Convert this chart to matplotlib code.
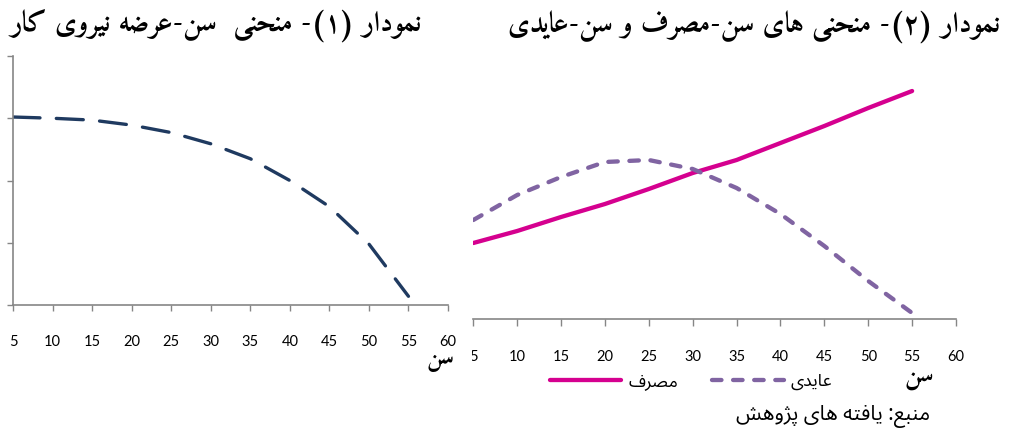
import matplotlib
matplotlib.use('Agg')
import matplotlib.pyplot as plt
from matplotlib.lines import Line2D
from matplotlib.patches import Rectangle

# ---- data ----
ages = [5, 10, 15, 20, 25, 30, 35, 40, 45, 50, 55]
labour_supply = [3.02, 3.00, 2.97, 2.89, 2.77, 2.59, 2.35, 2.00, 1.58, 0.98, 0.14]
consumption = [76, 88, 102, 115, 130, 146, 159, 176, 193, 211, 228]
earnings = [99, 124, 142, 157, 159, 150, 131, 105, 73, 38, 6]
x_ticks = [5, 10, 15, 20, 25, 30, 35, 40, 45, 50, 55, 60]

title_left = 'نمودار (۱)- منحنی  سن-عرضه نیروی کار'
title_right = 'نمودار (۲)- منحنی های سن-مصرف و سن-عایدی'
xlabel = 'سن'
series_names = ['مصرف', 'عایدی']
source_note = 'منبع: یافته های پژوهش'

# ---- minimal Persian shaping (matplotlib has no bidi / joining) ----
# (isolated, final, initial, medial); right-joining letters only have two forms
FORMS = {
    'ا': ('\uFE8D', '\uFE8E'),
    'ب': ('\uFE8F', '\uFE90', '\uFE91', '\uFE92'),
    'پ': ('\uFB56', '\uFB57', '\uFB58', '\uFB59'),
    'ت': ('\uFE95', '\uFE96', '\uFE97', '\uFE98'),
    'ح': ('\uFEA1', '\uFEA2', '\uFEA3', '\uFEA4'),
    'د': ('\uFEA9', '\uFEAA'),
    'ر': ('\uFEAD', '\uFEAE'),
    'ژ': ('\uFB8A', '\uFB8B'),
    'س': ('\uFEB1', '\uFEB2', '\uFEB3', '\uFEB4'),
    'ش': ('\uFEB5', '\uFEB6', '\uFEB7', '\uFEB8'),
    'ص': ('\uFEB9', '\uFEBA', '\uFEBB', '\uFEBC'),
    'ض': ('\uFEBD', '\uFEBE', '\uFEBF', '\uFEC0'),
    'ع': ('\uFEC9', '\uFECA', '\uFECB', '\uFECC'),
    'ف': ('\uFED1', '\uFED2', '\uFED3', '\uFED4'),
    'ک': ('\uFB8E', '\uFB8F', '\uFB90', '\uFB91'),
    'م': ('\uFEE1', '\uFEE2', '\uFEE3', '\uFEE4'),
    'ن': ('\uFEE5', '\uFEE6', '\uFEE7', '\uFEE8'),
    'ه': ('\uFEE9', '\uFEEA', '\uFEEB', '\uFEEC'),
    'و': ('\uFEED', '\uFEEE'),
    'ی': ('\uFBFC', '\uFBFD', '\uFBFE', '\uFBFF'),
}
MIRROR = {'(': ')', ')': '('}


def fa(text):
    out = []
    for i, ch in enumerate(text):
        if ch not in FORMS:
            out.append(MIRROR.get(ch, ch))
            continue
        prev = text[i - 1] if i > 0 else ''
        nxt = text[i + 1] if i + 1 < len(text) else ''
        join_prev = prev in FORMS and len(FORMS[prev]) == 4
        join_next = len(FORMS[ch]) == 4 and nxt in FORMS
        f = FORMS[ch]
        if join_prev and join_next:
            out.append(f[3])
        elif join_prev:
            out.append(f[1])
        elif join_next:
            out.append(f[2])
        else:
            out.append(f[0])
    return ''.join(reversed(out))


W, H = 1012, 433
fig = plt.figure(figsize=(W / 100, H / 100), dpi=100)

axis_grey = '#868686'
tick_font = dict(family=['Lato', 'DejaVu Sans'], size=10.5, color='black')
bold_fa = dict(family=['Amiri', 'DejaVu Sans'], weight='bold', color='black')
plain_fa = dict(family=['Noto Sans Arabic', 'DejaVu Sans'], color='black')


def box(x0, x1, y_top, y_bot):
    return [x0 / W, 1 - y_bot / H, (x1 - x0) / W, (y_bot - y_top) / H]


# ---- chart 1: age / labour supply ----
ax1 = fig.add_axes(box(13, 448, 56, 305))
ax1.plot(ages, labour_supply, color='#1F3A60', linewidth=2.4,
         dashes=(8.1, 4.9), dash_capstyle='round')
ax1.set_xlim(5, 60)
ax1.set_ylim(0, 4)
ax1.set_xticks(x_ticks)
ax1.set_yticks([0, 1, 2, 3, 4])
ax1.set_yticklabels([])
for s in ['top', 'right']:
    ax1.spines[s].set_visible(False)
for s in ['left', 'bottom']:
    ax1.spines[s].set_color(axis_grey)
    ax1.spines[s].set_linewidth(1.2)
ax1.tick_params(axis='both', direction='out', length=4.5, width=1, color=axis_grey)
ax1.tick_params(axis='x', pad=17)
for lab in ax1.get_xticklabels():
    lab.set(**tick_font)

# ---- chart 2: age / consumption and earnings ----
ax2 = fig.add_axes(box(473.3, 956, 60, 319))
ax2.plot(ages, consumption, color='#D5008F', linewidth=3.1,
         solid_capstyle='round')
ax2.plot(ages, earnings, color='#8064A2', linewidth=3.1,
         dashes=(2.2, 2.7), dash_capstyle='round')
ax2.set_xlim(5, 60)
ax2.set_ylim(0, 259)
ax2.set_xticks(x_ticks)
ax2.set_yticks([])
for s in ['top', 'right', 'left']:
    ax2.spines[s].set_visible(False)
ax2.spines['bottom'].set_color(axis_grey)
ax2.spines['bottom'].set_linewidth(1.2)
ax2.tick_params(axis='x', direction='out', length=5, width=1, color=axis_grey, pad=17)
for lab in ax2.get_xticklabels():
    lab.set(**tick_font)

# the first tick label of chart 2 sits under the edge of chart 1's frame
fig.patches.append(Rectangle((460 / W, 1 - 368 / H), 12 / W, 30 / H,
                             transform=fig.transFigure, facecolor='white',
                             edgecolor='none', zorder=10))

# ---- titles and labels ----
fig.text(422 / W, 1 - 25 / H, fa(title_left), ha='right', va='center', size=20.5, **bold_fa)
fig.text(1000 / W, 1 - 26 / H, fa(title_right), ha='right', va='center', size=20.5, **bold_fa)
fig.text(454 / W, 1 - 362 / H, fa(xlabel), ha='right', va='center', size=17, **bold_fa)
fig.text(934 / W, 1 - 379 / H, fa(xlabel), ha='right', va='center', size=18, **bold_fa)

handles = [
    Line2D([], [], color='#D5008F', linewidth=3.1, solid_capstyle='round'),
    Line2D([], [], color='#8064A2', linewidth=3.1, dashes=(2.2, 2.7), dash_capstyle='round'),
]
leg = fig.legend(handles, [fa(n) for n in series_names], loc='center',
                 bbox_to_anchor=(691 / W, 1 - 381 / H), ncol=2, frameon=False,
                 handlelength=4.1, handletextpad=0.4, columnspacing=2.0,
                 prop=dict(family=['Noto Sans Arabic', 'DejaVu Sans'], size=12.5))

fig.text(930 / W, 1 - 416 / H, fa(source_note), ha='right', va='center', size=15, **plain_fa)

fig.savefig('out.png', dpi=100)
